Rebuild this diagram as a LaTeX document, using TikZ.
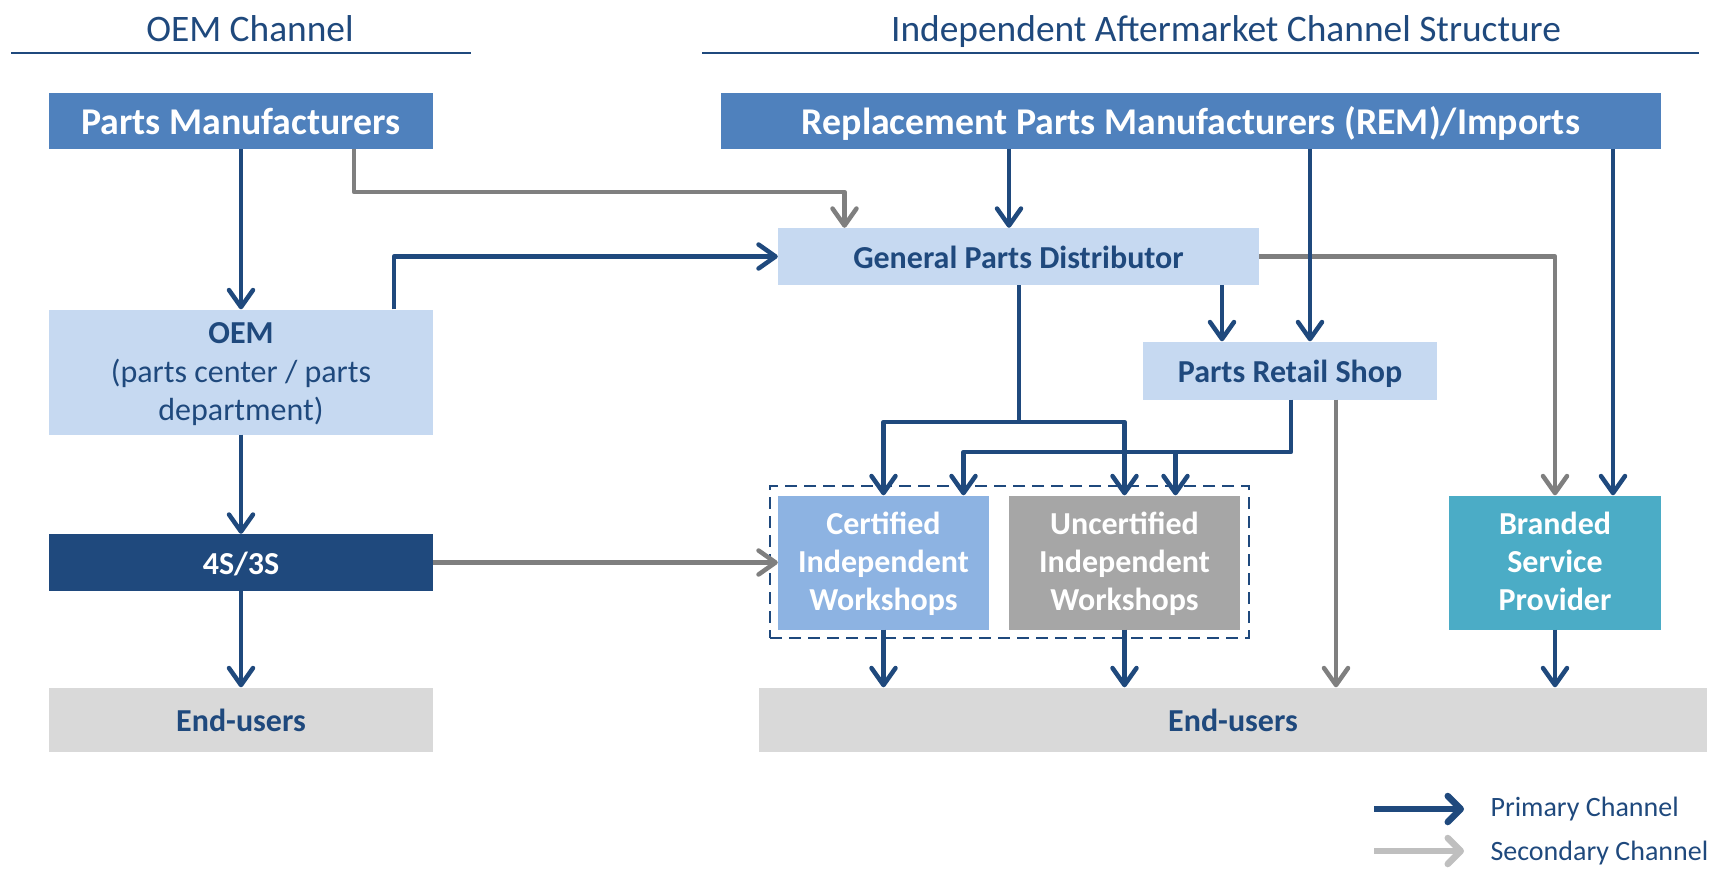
\documentclass[tikz,border=0pt]{standalone}
\usepackage{fontspec}
\setmainfont{Carlito}
\usetikzlibrary{arrows.meta}
\definecolor{navy}{HTML}{1F497D}
\definecolor{midblue}{HTML}{4F81BD}
\definecolor{paleblue}{HTML}{C6D9F1}
\definecolor{skyblue}{HTML}{8DB3E2}
\definecolor{tealbox}{HTML}{4BACC6}
\definecolor{midgray}{HTML}{A6A6A6}
\definecolor{palegray}{HTML}{D9D9D9}
\definecolor{linegray}{HTML}{7F7F7F}
\definecolor{leggray}{HTML}{BFBFBF}
\tikzset{
  box/.style={fill=#1, inner sep=2pt, text=navy,
              font=\bfseries\fontsize{32}{37.9}\selectfont},
  box/.default=paleblue,
  oneline/.style={text height=31pt, text depth=8pt},
  head/.style={box=midblue, text=white, minimum height=56, text height=35.6pt, text depth=9pt,
               font=\bfseries\fontsize{37.8}{44}\selectfont},
  pri/.style={-{Straight Barb[length=17pt,width=24pt,round]}, draw=navy,
              line width=4.5pt, line join=round},
  sec/.style={pri, draw=linegray},
  ttl/.style={text=navy, anchor=base, font=\fontsize{37.4}{44}\selectfont},
  legtxt/.style={text=navy, anchor=base west, font=\fontsize{28}{33}\selectfont},
  rule/.style={draw=navy, line width=2.5pt}}
\newcommand{\stk}[1]{\begin{tabular}{@{}c@{}}\rule{0pt}{32pt}#1\end{tabular}}

\begin{document}
\begin{tikzpicture}[x=1pt, y=-1pt]
  \useasboundingbox (0,0) rectangle (1710,873);
  % channel titles
  \node[ttl] (tOEM) at (250,41) {OEM Channel};
  \node[ttl] (tIAM) at (1226,41) {Independent Aftermarket Channel Structure};
  \draw[rule] (11,53) -- (471,53);
  \draw[rule] (702,53) -- (1699,53);
  % boxes
  \node[head, minimum width=384] (pm) at (241,121) {Parts Manufacturers};
  \node[head, minimum width=940] (rem) at (1191,121) {Replacement Parts Manufacturers (REM)/Imports};
  \node[box, oneline, minimum width=481, minimum height=57] (gpd) at (1018.5,256.5) {General Parts Distributor};
  \node[box, minimum width=384, minimum height=125, font=\fontsize{32}{38.4}\selectfont] (oem) at (241,372)
    {\stk{\textbf{OEM}\\(parts center / parts\\department)}};
  \node[box, oneline, minimum width=294, minimum height=58] (prs) at (1290,370.5) {Parts Retail Shop};
  \node[box=navy, oneline, text=white, minimum width=384, minimum height=57] (s4) at (241,562.5) {4S/3S};
  \node[draw=navy, line width=2.5pt, dash pattern=on 12pt off 7pt,
        minimum width=479, minimum height=152] (grp) at (1009.5,562) {};
  \node[box=skyblue, text=white, minimum width=211, minimum height=134] (cert) at (883.5,562.5)
    {\stk{Certified\\Independent\\Workshops}};
  \node[box=midgray, text=white, minimum width=231, minimum height=134] (uncert) at (1124.5,562.5)
    {\stk{Uncertified\\Independent\\Workshops}};
  \node[box=tealbox, text=white, minimum width=212, minimum height=134] (brand) at (1555,562.5)
    {\stk{Branded\\Service\\Provider}};
  \node[box=palegray, oneline, minimum width=384, minimum height=64] (euL) at (241,719.5) {End-users};
  \node[box=palegray, oneline, minimum width=948, minimum height=64] (euR) at (1233,719.5) {End-users};
  % junctions
  \coordinate (kPM) at (354,192);
  \coordinate (kOEM) at (394,0);
  \coordinate (kR1) at (1009,0);
  \coordinate (kR2) at (1310,0);
  \coordinate (kR3) at (1613,0);
  \coordinate (kG) at (1222,0);
  \coordinate (jG) at (1019,422);
  \coordinate (jP) at (1291,452);
  \coordinate (kP) at (1336,0);
  % secondary channel
  \draw[sec] (pm.south -| kPM) -- (kPM) -| ([xshift=-174]gpd.north);
  \draw[sec] (gpd.east) -| (brand.north);
  \draw[sec] (prs.south -| kP) -- (euR.north -| kP);
  \draw[sec] (s4.east) -- (cert.west);
  % primary channel
  \draw[pri] (pm.south) -- (oem.north);
  \draw[pri] (oem.south) -- (s4.north);
  \draw[pri] (s4.south) -- (euL.north);
  \draw[pri] (oem.north -| kOEM) |- (gpd.west);
  \draw[pri] (rem.south -| kR1) -- (gpd.north -| kR1);
  \draw[pri] (rem.south -| kR2) -- (prs.north -| kR2);
  \draw[pri] (rem.south -| kR3) -- (brand.north -| kR3);
  \draw[pri] (gpd.south -| kG) -- (prs.north -| kG);
  \draw[pri] (gpd.south -| jG) -- (jG) -| (cert.north);
  \draw[pri] (jG) -| (uncert.north);
  \draw[pri] (prs.south -| jP) -- (jP) -| ([xshift=80]cert.north);
  \draw[pri] (jP) -| ([xshift=51]uncert.north);
  \draw[pri] (cert.south) -- (cert.south |- euR.north);
  \draw[pri] (uncert.south) -- (uncert.south |- euR.north);
  \draw[pri] (brand.south) -- (brand.south |- euR.north);
  % legend
  \coordinate (lp1) at (1374,809);
  \coordinate (lp2) at (1464,809);
  \coordinate (ls1) at (1374,851);
  \coordinate (ls2) at (1464,851);
  \draw[pri, line width=6.5pt, -{Straight Barb[length=13pt,width=26pt,round]}] (lp1) -- (lp2);
  \draw[pri, draw=leggray, line width=6.5pt, -{Straight Barb[length=13pt,width=26pt,round]}] (ls1) -- (ls2);
  \node[legtxt] (lpt) at (1487,816) {Primary Channel};
  \node[legtxt] (lst) at (1487,860) {Secondary Channel};
\end{tikzpicture}
\end{document}
